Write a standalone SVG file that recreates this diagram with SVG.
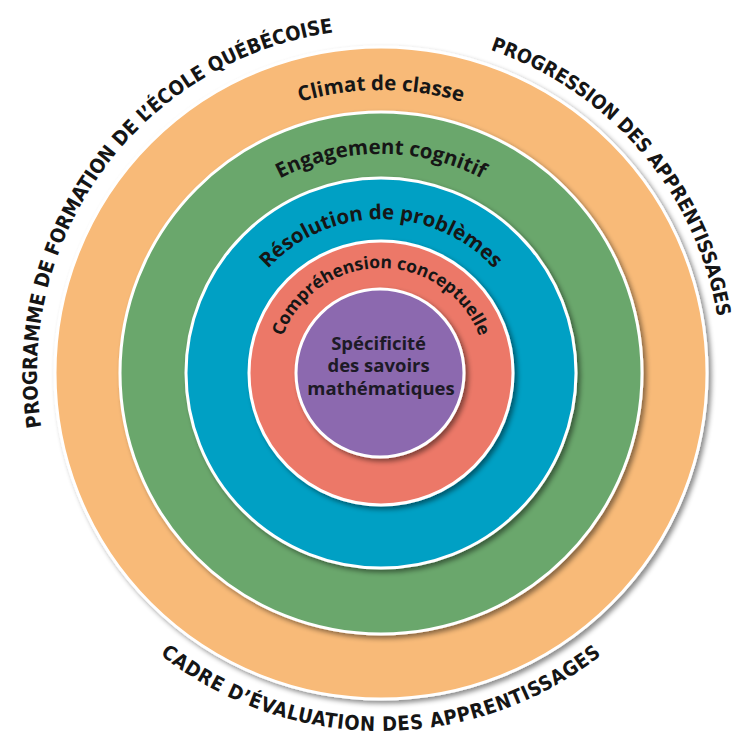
<svg xmlns="http://www.w3.org/2000/svg" xmlns:xlink="http://www.w3.org/1999/xlink" width="732" height="736" viewBox="0 0 732 736">
  <style>
    .ring { stroke: #ffffff; stroke-width: 3; filter: url(#sh); }
    .outer { font-family: "Liberation Sans Narrow", "DejaVu Sans Condensed", "DejaVu Sans", sans-serif; font-stretch: condensed; font-weight: 700; font-size: 20px; fill: #151515; }
    .lbl { font-family: "Open Sans", "Noto Sans", sans-serif; font-weight: 700; font-size: 20.5px; fill: #161616; }
    .ctr { font-family: "Open Sans", "Noto Sans", sans-serif; font-weight: 700; font-size: 18.5px; fill: #1d1a26; }
  </style>
  <defs>
    <filter id="sh" x="-10%" y="-10%" width="125%" height="125%">
      <feDropShadow dx="3" dy="3" stdDeviation="2.5" flood-color="#000" flood-opacity="0.45"/>
    </filter>
    <path id="pLeft" d="M 83.1 545 A 344 344 0 0 1 458.4 37.8"/>
    <path id="pRight" d="M 319.4 37.6 A 341 341 0 0 1 702.3 487.4"/>
    <path id="pBottom" d="M 71 552 A 358 358 0 0 0 691 552"/>
    <path id="pClimat" d="M 115.1 276.2 A 283 283 0 0 1 646.9 276.2"/>
    <path id="pEngagement" d="M 165.3 335 A 219 219 0 0 1 596.7 335"/>
    <path id="pResolution" d="M 227.6 359.6 A 154 154 0 0 1 534.4 359.6"/>
    <path id="pComprehension" d="M 282.3 408.9 A 105 105 0 1 1 479.7 408.9"/>
  </defs>

  <g id="outer-labels">
    <text class="outer" letter-spacing="0"><textPath href="#pLeft" xlink:href="#pLeft" startOffset="50%" text-anchor="middle">PROGRAMME DE FORMATION DE L’ÉCOLE QUÉBÉCOISE</textPath></text>
    <text class="outer" letter-spacing="0" style="font-size:19.5px"><textPath href="#pRight" xlink:href="#pRight" startOffset="50%" text-anchor="middle">PROGRESSION DES APPRENTISSAGES</textPath></text>
    <text class="outer" letter-spacing="0.6"><textPath href="#pBottom" xlink:href="#pBottom" startOffset="50%" text-anchor="middle">CADRE D’ÉVALUATION DES APPRENTISSAGES</textPath></text>
  </g>

  <g id="ring-climat">
    <circle class="ring" cx="381" cy="373" r="326" fill="#F8BA78"/>
    <text class="lbl"><textPath href="#pClimat" xlink:href="#pClimat" startOffset="50%" text-anchor="middle">Climat de classe</textPath></text>
  </g>
  <g id="ring-engagement">
    <circle class="ring" cx="381" cy="373" r="261" fill="#6BA76C"/>
    <text class="lbl"><textPath href="#pEngagement" xlink:href="#pEngagement" startOffset="50%" text-anchor="middle">Engagement cognitif</textPath></text>
  </g>
  <g id="ring-resolution">
    <circle class="ring" cx="381" cy="373" r="195" fill="#05A0C4"/>
    <text class="lbl"><textPath href="#pResolution" xlink:href="#pResolution" startOffset="50%" text-anchor="middle">Résolution de problèmes</textPath></text>
  </g>
  <g id="ring-comprehension">
    <circle class="ring" cx="381" cy="373" r="132" fill="#EC7868"/>
    <text class="lbl" style="font-size:17.5px"><textPath href="#pComprehension" xlink:href="#pComprehension" startOffset="50%" text-anchor="middle">Compréhension conceptuelle</textPath></text>
  </g>
  <g id="core-specificite">
    <circle class="ring" cx="380" cy="373" r="84" fill="#8C69AF"/>
    <text class="ctr" text-anchor="middle">
      <tspan x="381" y="350">Spécificité</tspan>
      <tspan x="381" y="372">des savoirs</tspan>
      <tspan x="381" y="395">mathématiques</tspan>
    </text>
  </g>
  <g id="connectors"/>
</svg>
